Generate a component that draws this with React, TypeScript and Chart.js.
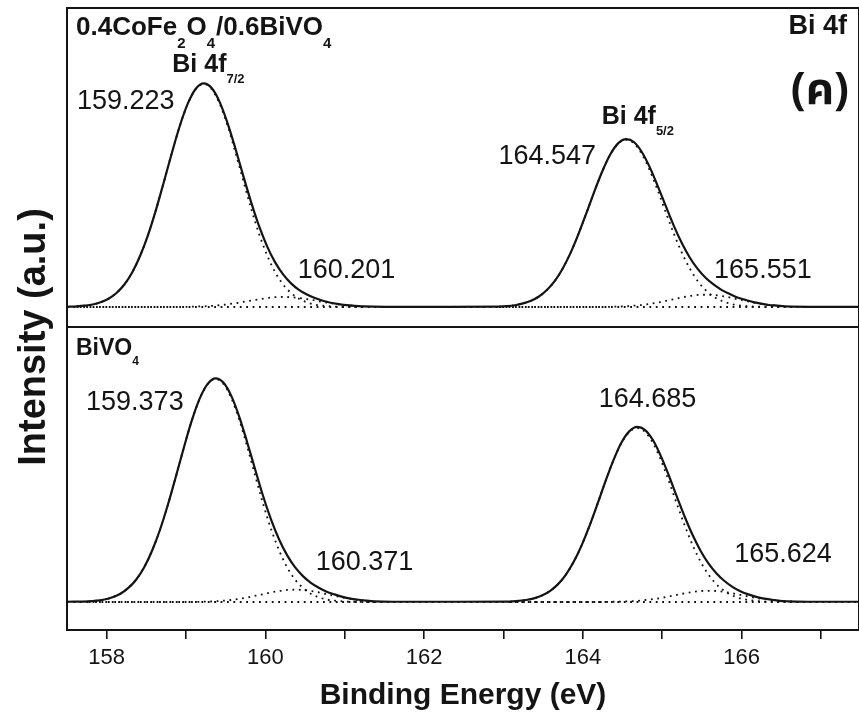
import React, { useEffect, useRef } from 'react';
import { Chart, registerables } from 'chart.js';

Chart.register(...registerables);

// ---------- axis ranges ----------
const X_MIN = 157.5;
const X_MAX = 167.48;
const TOP_Y_RANGE = [-0.0897, 1.341];
const BOT_Y_RANGE = [-0.1256, 1.233];

// ---------- 0.4CoFe2O4/0.6BiVO4 (top panel) ----------
const TOP_P1_X = [157.623,157.723,157.823,157.923,158.023,158.123,158.223,158.323,158.423,158.523,158.623,158.723,158.823,158.923,159.023,159.123,159.223,159.323,159.423,159.523,159.623,159.723,159.823,159.923,160.023,160.123,160.223,160.323,160.423,160.523,160.623,160.723,160.823,160.923,161.023,161.123,161.223];
const TOP_P1_ENV = [0.003,0.006,0.011,0.021,0.037,0.063,0.101,0.156,0.231,0.325,0.438,0.564,0.693,0.814,0.913,0.979,1.003,0.982,0.920,0.825,0.710,0.586,0.467,0.360,0.271,0.200,0.146,0.106,0.077,0.056,0.040,0.028,0.019,0.013,0.008,0.005,0.003];
const TOP_P1_MAIN = [0.003,0.006,0.011,0.021,0.037,0.063,0.101,0.156,0.231,0.325,0.438,0.564,0.693,0.814,0.912,0.977,1.000,0.977,0.912,0.814,0.693,0.564,0.438,0.325,0.231,0.156,0.101,0.063,0.037,0.021,0.011,0.006,0.003,0.001,0.001,0,0];
const TOP_P1_SH = [0,0,0,0,0,0,0,0,0,0,0,0,0,0,0.001,0.002,0.003,0.005,0.008,0.012,0.017,0.023,0.029,0.035,0.040,0.044,0.045,0.044,0.040,0.035,0.029,0.023,0.017,0.012,0.008,0.005,0.003];

const TOP_P2_X = [162.947,163.047,163.147,163.247,163.347,163.447,163.547,163.647,163.747,163.847,163.947,164.047,164.147,164.247,164.347,164.447,164.547,164.647,164.747,164.847,164.947,165.047,165.147,165.247,165.347,165.447,165.547,165.647,165.747,165.847,165.947,166.047,166.147,166.247,166.347,166.447,166.547];
const TOP_P2_ENV = [0.002,0.004,0.008,0.016,0.028,0.047,0.076,0.117,0.173,0.244,0.329,0.423,0.520,0.610,0.685,0.735,0.753,0.739,0.693,0.624,0.540,0.451,0.364,0.287,0.222,0.171,0.131,0.101,0.077,0.059,0.043,0.032,0.022,0.015,0.009,0.006,0.003];
const TOP_P2_MAIN = [0.002,0.004,0.008,0.016,0.028,0.047,0.076,0.117,0.173,0.244,0.329,0.423,0.520,0.610,0.684,0.733,0.750,0.733,0.684,0.610,0.520,0.423,0.329,0.244,0.173,0.117,0.076,0.047,0.028,0.016,0.008,0.004,0.002,0.001,0,0,0];
const TOP_P2_SH = [0,0,0,0,0,0,0,0,0,0,0,0,0,0,0.001,0.002,0.003,0.006,0.009,0.014,0.020,0.028,0.035,0.043,0.049,0.054,0.055,0.054,0.049,0.043,0.035,0.028,0.020,0.014,0.009,0.006,0.003];

const TOP_FLAT_X = [157.5, 161.5, 162.3, 167.0, 167.48];
const TOP_FLAT_Y = [0.001, 0.001, 0.001, 0.001, 0.001];

// ---------- BiVO4 (bottom panel) ----------
const BOT_P1_X = [157.773,157.873,157.973,158.073,158.173,158.273,158.373,158.473,158.573,158.673,158.773,158.873,158.973,159.073,159.173,159.273,159.373,159.473,159.573,159.673,159.773,159.873,159.973,160.073,160.173,160.273,160.373,160.473,160.573,160.673,160.773,160.873,160.973,161.073,161.173,161.273,161.373];
const BOT_P1_ENV = [0.003,0.006,0.011,0.021,0.037,0.063,0.101,0.156,0.231,0.325,0.438,0.564,0.693,0.814,0.913,0.978,1.003,0.983,0.922,0.828,0.713,0.592,0.473,0.368,0.280,0.210,0.156,0.116,0.086,0.064,0.046,0.034,0.023,0.015,0.010,0.006,0.003];
const BOT_P1_MAIN = [0.003,0.006,0.011,0.021,0.037,0.063,0.101,0.156,0.231,0.325,0.438,0.564,0.693,0.814,0.912,0.977,1.000,0.977,0.912,0.814,0.693,0.564,0.438,0.325,0.231,0.156,0.101,0.063,0.037,0.021,0.011,0.006,0.003,0.001,0.001,0,0];
const BOT_P1_SH = [0,0,0,0,0,0,0,0,0,0,0,0,0,0,0.001,0.002,0.003,0.006,0.009,0.014,0.020,0.028,0.035,0.043,0.049,0.054,0.055,0.054,0.049,0.043,0.035,0.028,0.020,0.014,0.009,0.006,0.003];

const BOT_P2_X = [163.085,163.185,163.285,163.385,163.485,163.585,163.685,163.785,163.885,163.985,164.085,164.185,164.285,164.385,164.485,164.585,164.685,164.785,164.885,164.985,165.085,165.185,165.285,165.385,165.485,165.585,165.685,165.785,165.885,165.985,166.085,166.185,166.285,166.385,166.485,166.585,166.685];
const BOT_P2_ENV = [0.002,0.005,0.009,0.016,0.029,0.049,0.079,0.122,0.180,0.254,0.342,0.440,0.541,0.635,0.714,0.765,0.785,0.771,0.725,0.653,0.566,0.472,0.381,0.299,0.229,0.172,0.128,0.094,0.068,0.048,0.034,0.023,0.015,0.010,0.005,0.003,0.002];
const BOT_P2_MAIN = [0.002,0.005,0.009,0.016,0.029,0.049,0.079,0.122,0.180,0.254,0.342,0.440,0.541,0.635,0.712,0.762,0.780,0.762,0.712,0.635,0.541,0.440,0.342,0.254,0.180,0.122,0.079,0.049,0.029,0.016,0.009,0.005,0.002,0.001,0,0,0];
const BOT_P2_SH = [0,0,0,0,0,0,0,0,0,0,0,0,0,0.001,0.002,0.003,0.005,0.009,0.013,0.018,0.025,0.032,0.039,0.045,0.049,0.050,0.049,0.045,0.039,0.032,0.025,0.018,0.013,0.009,0.005,0.003,0.002];

const BOT_FLAT_X = [157.5, 161.6, 162.4, 167.0, 167.48];
const BOT_FLAT_Y = [0.001, 0.001, 0.001, 0.001, 0.001];

const BG_X = [157.5, 167.48];
const BG_Y = [0, 0];

// ---------- annotations (data coordinates: eV, intensity) ----------
const TOP_LABELS = ['159.223', '160.201', '164.547', '165.551'];
const TOP_LABEL_X = [157.626, 160.408, 162.936, 165.654];
const TOP_LABEL_Y = [0.888, 0.130, 0.641, 0.130];
const BOT_LABELS = ['159.373', '160.371', '164.685', '165.624'];
const BOT_LABEL_X = [157.740, 160.635, 164.200, 165.907];
const BOT_LABEL_Y = [0.861, 0.1435, 0.874, 0.179];
const ORBITAL_X = [158.827, 164.238];
const ORBITAL_Y = [1.054, 0.821];
const ORBITAL_SUB = ['7/2', '5/2'];

const INK = '#141414';
const SANS = "'Liberation Sans', Arial, Helvetica, sans-serif";
const NARROW = "'Liberation Sans Narrow', 'Arial Narrow', 'Liberation Sans', Arial, sans-serif";

type Pt = { x: number; y: number };
const pts = (xs: number[], ys: number[]): Pt[] => xs.map((x, i) => ({ x, y: ys[i] }));
const merged = (...sets: Pt[][]): Pt[] => ([] as Pt[]).concat(...sets).sort((a, b) => a.x - b.x);

type Run = { t: string; sub?: boolean };
function drawRich(ctx: CanvasRenderingContext2D, x: number, y: number, runs: Run[], main: string, sub: string, subDy: number) {
  let cx = x;
  for (const r of runs) {
    ctx.font = r.sub ? sub : main;
    ctx.fillText(r.t, cx, r.sub ? y + subDy : y);
    cx += ctx.measureText(r.t).width + (r.sub ? 1 : 0);
  }
}

const decorPlugin = {
  id: 'xpsDecor',
  afterDraw(chart: any) {
    const { ctx, chartArea: a, scales } = chart;
    const sx = scales.x, yT = scales.yTop, yB = scales.yBot;
    ctx.save();
    ctx.strokeStyle = INK;
    ctx.lineWidth = 2;
    ctx.beginPath();
    ctx.rect(a.left, a.top, a.right - a.left, a.bottom - a.top);
    ctx.moveTo(a.left, yT.bottom);
    ctx.lineTo(a.right, yT.bottom);
    ctx.stroke();

    ctx.fillStyle = INK;
    ctx.textAlign = 'left';
    ctx.textBaseline = 'alphabetic';

    ctx.font = `27px ${SANS}`;
    TOP_LABELS.forEach((t, i) => ctx.fillText(t, sx.getPixelForValue(TOP_LABEL_X[i]), yT.getPixelForValue(TOP_LABEL_Y[i])));
    BOT_LABELS.forEach((t, i) => ctx.fillText(t, sx.getPixelForValue(BOT_LABEL_X[i]), yB.getPixelForValue(BOT_LABEL_Y[i])));

    ORBITAL_SUB.forEach((s, i) => {
      drawRich(ctx, sx.getPixelForValue(ORBITAL_X[i]), yT.getPixelForValue(ORBITAL_Y[i]),
        [{ t: 'Bi 4f' }, { t: s, sub: true }], `bold 25px ${SANS}`, `bold 13px ${SANS}`, 11);
    });

    drawRich(ctx, a.left + 9, a.top + 27,
      [{ t: '0.4CoFe' }, { t: '2', sub: true }, { t: 'O' }, { t: '4', sub: true }, { t: '/0.6BiVO' }, { t: '4', sub: true }],
      `bold 26px ${SANS}`, `bold 15px ${SANS}`, 13);
    drawRich(ctx, a.left + 9, yB.top + 28,
      [{ t: 'BiVO' }, { t: '4', sub: true }], `bold 23px ${SANS}`, `bold 12px ${SANS}`, 10);

    ctx.textAlign = 'right';
    ctx.font = `bold 27px ${SANS}`;
    ctx.fillText('Bi 4f', a.right - 12, a.top + 26);
    ctx.font = `bold 44px 'Noto Sans Thai', 'Noto Sans', 'DejaVu Sans', ${SANS}`;
    ctx.fillText('(ค)', a.right - 10, a.top + 96);

    ctx.textAlign = 'center';
    ctx.font = `bold 30px ${SANS}`;
    ctx.fillText('Binding Energy (eV)', (a.left + a.right) / 2, 704);
    ctx.translate(45, 337);
    ctx.rotate(-Math.PI / 2);
    ctx.font = `bold 38px ${SANS}`;
    ctx.fillText('Intensity (a.u.)', 0, 0);
    ctx.restore();
  },
};

function solid(data: Pt[], axis: string) {
  return { data, yAxisID: axis, borderColor: INK, borderWidth: 2.2, pointRadius: 0, fill: false, cubicInterpolationMode: 'monotone' as const };
}
function dotted(data: Pt[], axis: string) {
  return { data, yAxisID: axis, borderColor: '#111', borderWidth: 1.8, borderDash: [1.8, 4.6], pointRadius: 0, fill: false, cubicInterpolationMode: 'monotone' as const };
}

export default function App() {
  const ref = useRef<HTMLCanvasElement | null>(null);
  useEffect(() => {
    if (!ref.current) return;
    const chart = new Chart(ref.current, {
      type: 'line',
      data: {
        datasets: [
          solid(merged(pts(TOP_P1_X, TOP_P1_ENV), pts(TOP_P2_X, TOP_P2_ENV), pts(TOP_FLAT_X, TOP_FLAT_Y)), 'yTop'),
          solid(merged(pts(BOT_P1_X, BOT_P1_ENV), pts(BOT_P2_X, BOT_P2_ENV), pts(BOT_FLAT_X, BOT_FLAT_Y)), 'yBot'),
          dotted(pts(TOP_P1_X, TOP_P1_MAIN), 'yTop'),
          dotted(pts(TOP_P1_X, TOP_P1_SH), 'yTop'),
          dotted(pts(TOP_P2_X, TOP_P2_MAIN), 'yTop'),
          dotted(pts(TOP_P2_X, TOP_P2_SH), 'yTop'),
          dotted(pts(BG_X, BG_Y), 'yTop'),
          dotted(pts(BOT_P1_X, BOT_P1_MAIN), 'yBot'),
          dotted(pts(BOT_P1_X, BOT_P1_SH), 'yBot'),
          dotted(pts(BOT_P2_X, BOT_P2_MAIN), 'yBot'),
          dotted(pts(BOT_P2_X, BOT_P2_SH), 'yBot'),
          dotted(pts(BG_X, BG_Y), 'yBot'),
        ] as any,
      },
      options: {
        responsive: false,
        animation: false,
        devicePixelRatio: 1,
        layout: { padding: { left: 67, top: 8, right: 0, bottom: 0 } },
        plugins: { legend: { display: false }, tooltip: { enabled: false } },
        scales: {
          x: {
            type: 'linear',
            min: X_MIN,
            max: X_MAX,
            afterFit: (s: any) => { s.height = 87; },
            border: { display: false },
            grid: { display: true, drawOnChartArea: false, drawTicks: true, tickLength: 9, color: INK, lineWidth: 1.6 },
            ticks: {
              stepSize: 1,
              includeBounds: false,
              autoSkip: false,
              maxRotation: 0,
              padding: 6,
              color: INK,
              font: { family: NARROW, size: 22 },
              callback: (v: any) => (Math.round(v) % 2 === 0 ? String(Math.round(v)) : ''),
            },
          },
          yBot: {
            type: 'linear', display: false, position: 'left', stack: 'panels', stackWeight: 303,
            min: BOT_Y_RANGE[0], max: BOT_Y_RANGE[1],
          },
          yTop: {
            type: 'linear', display: false, position: 'left', stack: 'panels', stackWeight: 319,
            min: TOP_Y_RANGE[0], max: TOP_Y_RANGE[1],
          },
        } as any,
      },
      plugins: [decorPlugin],
    });
    return () => chart.destroy();
  }, []);
  return (
    <div style={{ position: 'absolute', left: 0, top: 0, width: 859, height: 717, background: '#fff' }}>
      <canvas ref={ref} width={859} height={717} style={{ display: 'block', width: 859, height: 717 }} />
    </div>
  );
}
